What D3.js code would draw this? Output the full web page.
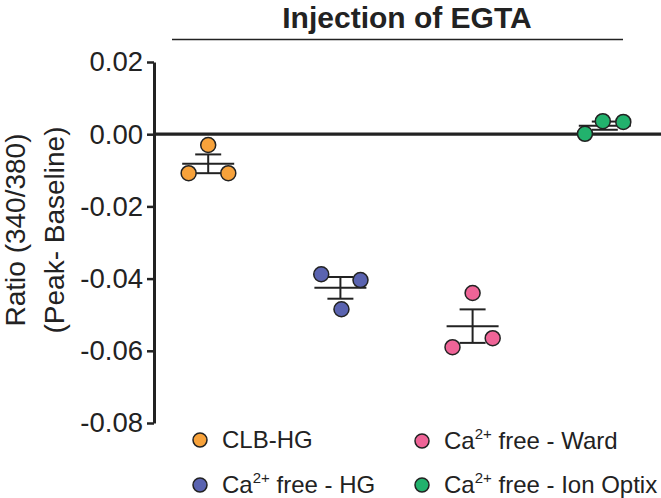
<!DOCTYPE html>
<html><head><meta charset="utf-8">
<script src="https://cdn.jsdelivr.net/npm/d3@7"></script>
<style>body{margin:0;background:#fff}svg{display:block}text{font-family:"Liberation Sans",Arial,sans-serif;fill:#222}</style>
</head><body><svg id="c" width="661" height="498"></svg>
<script>
const categories = ["CLB-HG", "Ca2+ free - HG", "Ca2+ free - Ward", "Ca2+ free - Ion Optix"];
const colors = ["#F7A23B", "#5A63B0", "#EF6497", "#22B26D"];
const clbHG = [-0.0030, -0.0108, -0.0108];
const freeHG = [-0.0388, -0.0404, -0.0485];
const freeWard = [-0.0440, -0.0590, -0.0565];
const freeIonOptix = [0.0036, 0.0034, 0.0001];
const jitter = [[0, -0.148, 0.152], [-0.145, 0.152, 0.008], [0, -0.152, 0.152], [-0.015, 0.14, -0.15]];
const yTicks = [0.02, 0.00, -0.02, -0.04, -0.06, -0.08];
const title = "Injection of EGTA";
const series = [clbHG, freeHG, freeWard, freeIonOptix];

const svg = d3.select("#c");
const x = d3.scalePoint().domain(categories).range([154, 659]).padding(0.41);
const step = x.step();
const y = d3.scaleLinear().domain([-0.08, 0.02]).range([423, 62]);

// title + bracket
svg.append("text").attr("x", 407).attr("y", 28).attr("text-anchor", "middle")
  .style("font-size", "30px").style("font-weight", "bold").text(title);
svg.append("line").attr("x1", 172).attr("x2", 623).attr("y1", 39.5).attr("y2", 39.5)
  .attr("stroke", "#222").attr("stroke-width", 1.6);

// y axis
const ax = svg.append("g").attr("transform", "translate(154,0)")
  .call(d3.axisLeft(y).tickValues(yTicks).tickSize(7).tickSizeOuter(0).tickPadding(4));
ax.select(".domain").attr("stroke", "#222").attr("stroke-width", 3);
ax.selectAll(".tick line").attr("stroke", "#222").attr("stroke-width", 2.5);
ax.selectAll(".tick text").style("font-size", "27.5px").attr("fill", "#222").style("font-family", '"Liberation Sans",Arial,sans-serif')
  .text(d => d3.format(".2f")(d === 0 ? 0 : d).replace("−", "-"));

// zero line
svg.append("line").attr("x1", 154).attr("x2", 661).attr("y1", y(0)).attr("y2", y(0))
  .attr("stroke", "#222").attr("stroke-width", 3.2);

// y label
const yl = svg.append("text").attr("transform", "translate(1,230) rotate(-90)").attr("text-anchor", "middle")
  .style("font-size", "28px");
yl.append("tspan").attr("x", 0).attr("y", 24).text("Ratio (340/380)");
yl.append("tspan").attr("x", 0).attr("y", 63).text("(Peak- Baseline)");

// mean & SEM
series.forEach((vals, i) => {
  const cx = x(categories[i]);
  const m = d3.mean(vals);
  const sem = d3.deviation(vals) / Math.sqrt(vals.length);
  const g = svg.append("g").attr("stroke", "#222").attr("stroke-width", 2);
  g.append("line").attr("x1", cx).attr("x2", cx).attr("y1", y(m + sem)).attr("y2", y(m - sem));
  g.append("line").attr("x1", cx - 26).attr("x2", cx + 26).attr("y1", y(m)).attr("y2", y(m));
  [m + sem, m - sem].forEach(v => g.append("line").attr("x1", cx - 13).attr("x2", cx + 13).attr("y1", y(v)).attr("y2", y(v)));
});
series.forEach((vals, i) => {
  const cx = x(categories[i]);
  svg.append("g").selectAll("circle").data(vals).join("circle")
    .attr("cx", (d, j) => cx + jitter[i][j] * step).attr("cy", d => y(d)).attr("r", 7.5)
    .attr("fill", colors[i]).attr("stroke", "#222").attr("stroke-width", 1.5);
});

// legend
const legPos = [[200, 440], [200, 485], [422, 441], [422, 485]];
categories.forEach((c, i) => {
  const [lx, ly] = legPos[i];
  svg.append("circle").attr("cx", lx).attr("cy", ly).attr("r", 7).attr("fill", colors[i])
    .attr("stroke", "#222").attr("stroke-width", 1.5);
  const t = svg.append("text").attr("x", lx + 22).attr("y", ly + 8).style("font-size", "24px");
  if (c.startsWith("Ca2+")) {
    t.append("tspan").text("Ca");
    t.append("tspan").attr("dy", -10).style("font-size", "15px").text("2+");
    t.append("tspan").attr("dy", 10).text(c.slice(4));
  } else t.text(c);
});
</script></body></html>
